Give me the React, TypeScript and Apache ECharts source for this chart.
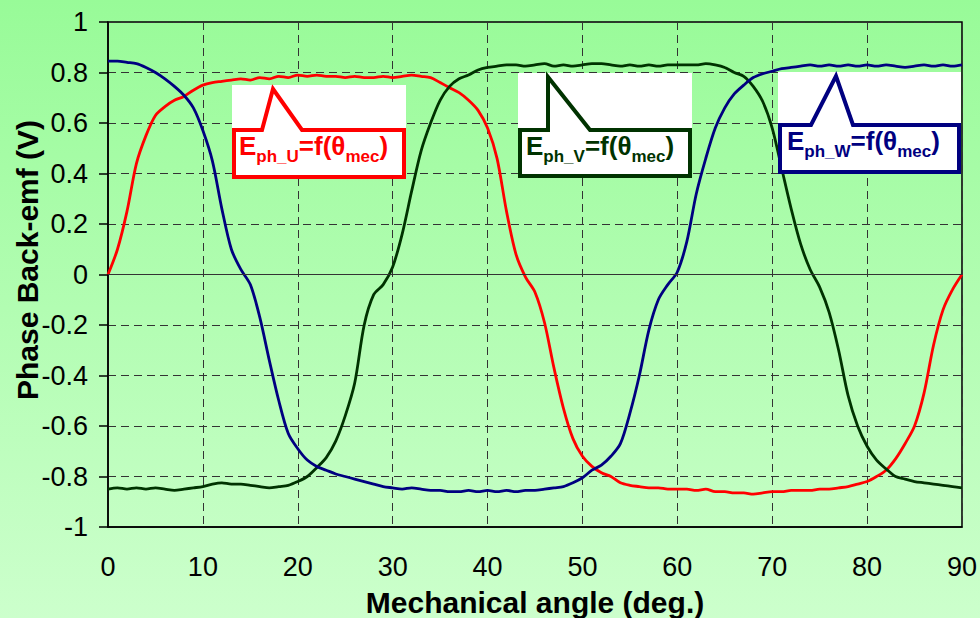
import React, { useEffect, useRef } from "react";
import * as echarts from "echarts";

const FONT = "'Liberation Sans', Arial, sans-serif";

const angles = [
  0, 1, 2, 3, 4, 5, 6, 7, 8, 9, 10, 11, 12, 13, 14, 15, 16, 17, 18, 19, 20, 21, 22, 23, 24, 25, 26, 27, 28, 29,
  30, 31, 32, 33, 34, 35, 36, 37, 38, 39, 40, 41, 42, 43, 44, 45, 46, 47, 48, 49, 50, 51, 52, 53, 54, 55, 56, 57, 58, 59,
  60, 61, 62, 63, 64, 65, 66, 67, 68, 69, 70, 71, 72, 73, 74, 75, 76, 77, 78, 79, 80, 81, 82, 83, 84, 85, 86, 87, 88, 89, 90,
];

const phaseU = [
  0.0, 0.1, 0.25, 0.44, 0.55, 0.63, 0.665, 0.69, 0.705, 0.73,
  0.75, 0.76, 0.765, 0.77, 0.775, 0.77, 0.78, 0.775, 0.785, 0.78,
  0.79, 0.785, 0.79, 0.785, 0.785, 0.78, 0.785, 0.78, 0.78, 0.785,
  0.78, 0.785, 0.79, 0.785, 0.78, 0.76, 0.74, 0.72, 0.69, 0.65,
  0.58, 0.46, 0.25, 0.08, -0.01, -0.07, -0.19, -0.37, -0.53, -0.65,
  -0.72, -0.76, -0.785, -0.8, -0.825, -0.835, -0.84, -0.845, -0.845, -0.85,
  -0.85, -0.85, -0.855, -0.85, -0.86, -0.86, -0.865, -0.865, -0.87, -0.865,
  -0.86, -0.86, -0.855, -0.855, -0.855, -0.85, -0.85, -0.845, -0.84, -0.83,
  -0.82, -0.8, -0.775, -0.73, -0.67, -0.6, -0.47, -0.28, -0.14, -0.06,
  0.0,
];

const phaseV = [
  -0.85, -0.845, -0.85, -0.845, -0.85, -0.845, -0.85, -0.855, -0.85, -0.845,
  -0.84, -0.83, -0.825, -0.83, -0.83, -0.835, -0.84, -0.845, -0.84, -0.835,
  -0.82, -0.8, -0.765, -0.725, -0.66, -0.56, -0.43, -0.2, -0.08, -0.04,
  0.03, 0.16, 0.33, 0.49, 0.6, 0.69, 0.745, 0.775, 0.79, 0.81,
  0.82, 0.825, 0.83, 0.83, 0.825, 0.83, 0.835, 0.825, 0.83, 0.825,
  0.83, 0.835, 0.835, 0.83, 0.825, 0.83, 0.825, 0.83, 0.825, 0.83,
  0.83, 0.83, 0.83, 0.835, 0.83, 0.82, 0.8, 0.785, 0.745, 0.685,
  0.58, 0.42, 0.26, 0.12, 0.02, -0.05, -0.15, -0.3, -0.48, -0.6,
  -0.68, -0.735, -0.77, -0.8, -0.81, -0.82, -0.825, -0.83, -0.835, -0.84,
  -0.845,
];

const phaseW = [
  0.845, 0.845, 0.84, 0.835, 0.82, 0.8, 0.775, 0.745, 0.71, 0.66,
  0.57, 0.45, 0.26, 0.1, 0.02, -0.04, -0.17, -0.34, -0.5, -0.63,
  -0.69, -0.735, -0.76, -0.775, -0.79, -0.8, -0.81, -0.82, -0.83, -0.84,
  -0.845, -0.85, -0.845, -0.85, -0.855, -0.855, -0.86, -0.86, -0.855, -0.86,
  -0.855, -0.86, -0.855, -0.86, -0.855, -0.855, -0.85, -0.845, -0.84, -0.825,
  -0.805, -0.775, -0.755, -0.72, -0.67, -0.55, -0.4, -0.22, -0.1, -0.04,
  0.01, 0.13, 0.32, 0.46, 0.58, 0.66, 0.715, 0.75, 0.78, 0.795,
  0.805, 0.815, 0.82, 0.825, 0.83, 0.825, 0.83, 0.825, 0.83, 0.825,
  0.83, 0.825, 0.83, 0.825, 0.82, 0.825, 0.83, 0.825, 0.83, 0.825,
  0.83,
];

const seriesNames = ["E_ph_U", "E_ph_V", "E_ph_W"];
const seriesColors = ["#FF0000", "#003300", "#000080"];
const phaseLetters = ["U", "V", "W"];

function callout(
  color: string,
  letter: string,
  box: [number, number, number, number],
  whiteTop: number,
  pointer: [number, number, number, number],
  text: [number, number]
) {
  const [x0, y0, x1, y1] = box;
  const [pl, ax, ay, pr] = pointer;
  return [
    {
      type: "rect",
      z: 100,
      silent: true,
      shape: { x: x0 - 2, y: whiteTop, width: x1 - x0 + 4, height: y0 - whiteTop + 2 },
      style: { fill: "#FFFFFF" },
    },
    {
      type: "polygon",
      z: 101,
      silent: true,
      shape: {
        points: [
          [x0, y0],
          [pl, y0],
          [ax, ay],
          [pr, y0],
          [x1, y0],
          [x1, y1],
          [x0, y1],
        ],
      },
      style: { fill: "#FFFFFF", stroke: color, lineWidth: 4, lineJoin: "miter" },
    },
    {
      type: "text",
      z: 102,
      silent: true,
      x: text[0],
      y: text[1],
      style: {
        text: `{m|E}{s|ph_${letter}}{m|=f(θ}{s|mec}{m|)}`,
        align: "left",
        verticalAlign: "top",
        fill: color,
        rich: {
          m: { fontSize: 26, fontWeight: "bold", lineHeight: 26, fontFamily: FONT, fill: color },
          s: { fontSize: 17, fontWeight: "bold", lineHeight: 10, padding: [20, 0, 0, 0], fontFamily: FONT, fill: color },
        },
      },
    },
  ];
}

export default function App() {
  const ref = useRef<HTMLDivElement>(null);
  useEffect(() => {
    if (!ref.current) return;
    const chart = echarts.init(ref.current, null, { renderer: "svg" });
    const gridLine = { color: "#333333", type: [8, 5], width: 1 };
    const option: any = {
      animation: false,
      backgroundColor: new echarts.graphic.LinearGradient(0, 0, 0, 1, [
        { offset: 0, color: "#98FB98" },
        { offset: 1, color: "#CCFFCC" },
      ]),
      grid: {
        left: 108,
        top: 22,
        width: 855,
        height: 505,
        show: true,
        borderColor: "#000",
        borderWidth: 1.5,
        backgroundColor: "transparent",
      },
      xAxis: {
        type: "value",
        min: 0,
        max: 90,
        interval: 10,
        axisLine: { show: true, onZero: false, lineStyle: { color: "#000", width: 1.5 } },
        axisTick: { show: false },
        axisLabel: { fontSize: 27, color: "#000", margin: 26, fontFamily: FONT },
        splitLine: { show: true, lineStyle: gridLine },
      },
      yAxis: {
        type: "value",
        min: -1,
        max: 1,
        interval: 0.2,
        axisLine: { show: true, onZero: false, lineStyle: { color: "#000", width: 1.5 } },
        axisTick: { show: true, inside: false, length: 9, lineStyle: { color: "#000", width: 1.5 } },
        axisLabel: { fontSize: 27, color: "#000", margin: 20, fontFamily: FONT },
        splitLine: { show: true, lineStyle: gridLine },
      },
      series: [
        {
          type: "line",
          name: "zero",
          data: [],
          z: 1,
          silent: true,
          markLine: {
            silent: true,
            symbol: "none",
            label: { show: false },
            lineStyle: { color: "#333333", type: "solid", width: 1.2 },
            data: [{ yAxis: 0 }],
          },
        },
        ...[phaseU, phaseV, phaseW].map((vals, i) => ({
          type: "line",
          name: seriesNames[i],
          data: angles.map((a, j) => [a, vals[j]]),
          showSymbol: false,
          symbol: "none",
          smooth: 0.3,
          z: 3,
          lineStyle: { color: seriesColors[i], width: 2.8 },
          itemStyle: { color: seriesColors[i] },
        })),
      ],
      graphic: [
        ...callout(seriesColors[0], phaseLetters[0], [234, 130, 404, 177], 85, [262, 273, 89, 302], [239, 133]),
        ...callout(seriesColors[1], phaseLetters[1], [520, 130, 690, 176], 73, [548, 548, 77, 590], [526, 133]),
        ...callout(seriesColors[2], phaseLetters[2], [780, 125, 959, 172], 72, [811, 836, 76, 853], [787, 128]),
        {
          type: "text",
          x: 27,
          y: 260,
          rotation: Math.PI / 2,
          silent: true,
          style: {
            text: "Phase Back-emf (V)",
            fontSize: 30,
            fontWeight: "bold",
            fontFamily: FONT,
            fill: "#000",
            align: "center",
            verticalAlign: "middle",
          },
        },
        {
          type: "text",
          x: 535,
          y: 602,
          silent: true,
          style: {
            text: "Mechanical angle (deg.)",
            fontSize: 30,
            fontWeight: "bold",
            fontFamily: FONT,
            fill: "#000",
            align: "center",
            verticalAlign: "middle",
          },
        },
      ],
    };
    chart.setOption(option);
    return () => chart.dispose();
  }, []);
  return (
    <div
      ref={ref}
      style={{ position: "absolute", left: 0, top: 0, width: 980, height: 618 }}
    />
  );
}
